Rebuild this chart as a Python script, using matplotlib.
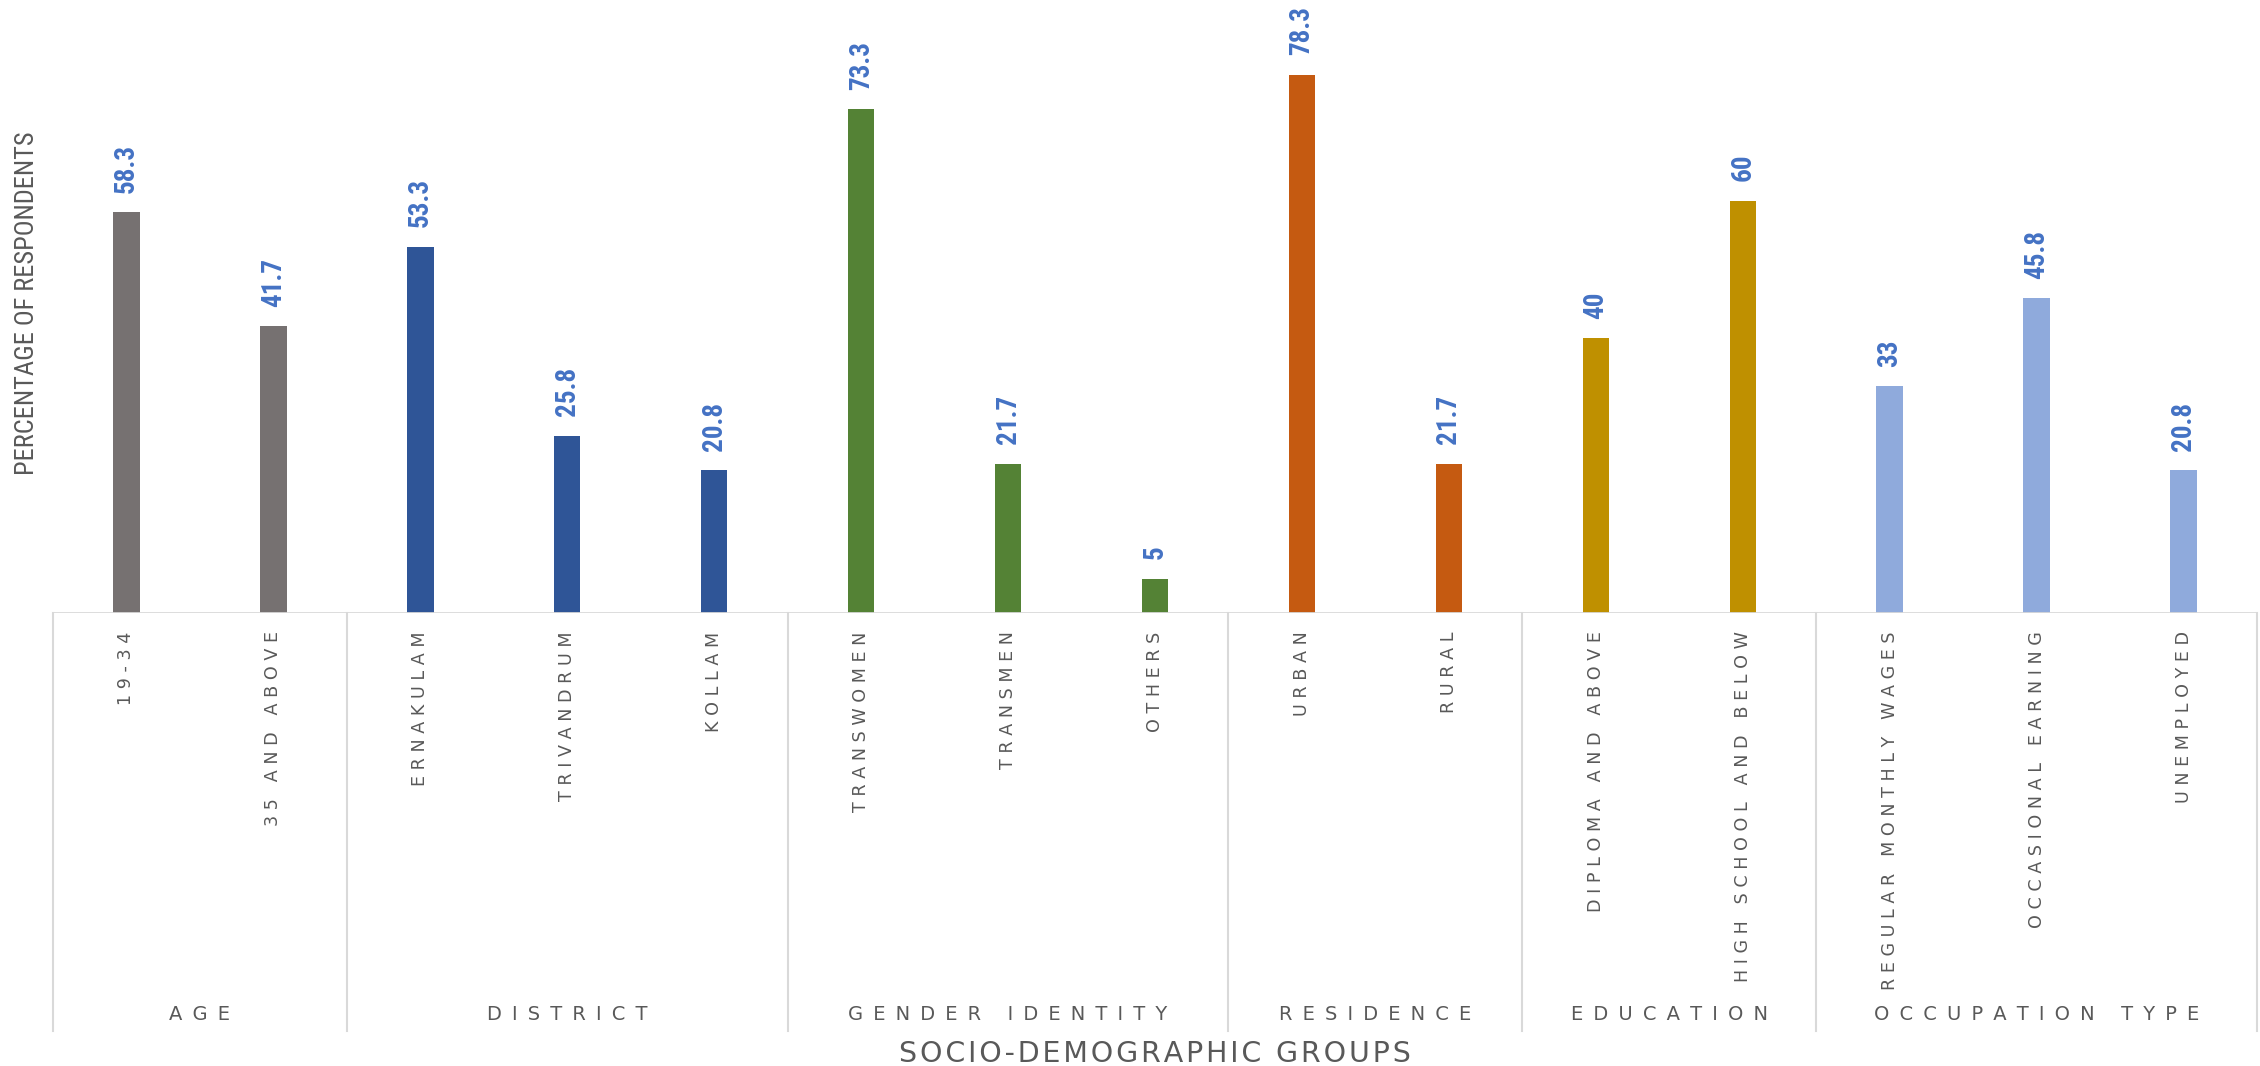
import numpy as np
import matplotlib
matplotlib.use("Agg")
import matplotlib.pyplot as plt

# data
groups = ["AGE", "DISTRICT", "GENDER IDENTITY", "RESIDENCE", "EDUCATION", "OCCUPATION TYPE"]
age_labels = ["19-34", "35 AND ABOVE"]
age_vals = [58.3, 41.7]
district_labels = ["ERNAKULAM", "TRIVANDRUM", "KOLLAM"]
district_vals = [53.3, 25.8, 20.8]
gender_labels = ["TRANSWOMEN", "TRANSMEN", "OTHERS"]
gender_vals = [73.3, 21.7, 5]
residence_labels = ["URBAN", "RURAL"]
residence_vals = [78.3, 21.7]
education_labels = ["DIPLOMA AND ABOVE", "HIGH SCHOOL AND BELOW"]
education_vals = [40, 60]
occupation_labels = ["REGULAR MONTHLY WAGES", "OCCASIONAL EARNING", "UNEMPLOYED"]
occupation_vals = [33, 45.8, 20.8]

group_colors = ["#767171", "#2F5597", "#548235", "#C55A11", "#BF9000", "#8FAADC"]

all_labels = [age_labels, district_labels, gender_labels, residence_labels,
              education_labels, occupation_labels]
all_vals = [age_vals, district_vals, gender_vals, residence_vals,
            education_vals, occupation_vals]

grey = "#595959"
line_grey = "#D9D9D9"
narrow = ["Roboto Condensed", "Liberation Sans Narrow", "DejaVu Sans"]


def spaced(s):
    # fake letter spacing (excel style)
    return " ".join(s)


fig = plt.figure(figsize=(22.6, 10.66), dpi=100)
ax = fig.add_axes([53 / 2260, 1 - 613 / 1066, (2257 - 53) / 2260, 613 / 1066])

pos = 0
bounds = [-0.5]
for g, labels, vals, col in zip(groups, all_labels, all_vals, group_colors):
    x = np.arange(pos, pos + len(vals))
    ax.bar(x, vals, width=0.18, color=col, zorder=2)
    for xi, v, lab in zip(x, vals, labels):
        ax.annotate(f"{v:g}", (xi, v), xytext=(0, 14), textcoords="offset points",
                    rotation=90, ha="center", va="bottom", fontsize=19.5,
                    fontweight="bold", fontstretch="condensed", color="#4472C4",
                    family=narrow)
        ax.text(xi, -0.03, spaced(lab), transform=ax.get_xaxis_transform(),
                rotation=90, ha="center", va="top", fontsize=12.6, color=grey,
                clip_on=False)
    pos += len(vals)
    bounds.append(pos - 0.5)
    ax.text((x[0] + x[-1]) / 2, -0.655, " \u2009".join(g),
            transform=ax.get_xaxis_transform(), ha="center", va="center",
            fontsize=14, color=grey, clip_on=False)

ax.set_xlim(-0.5, pos - 0.5)
ax.set_ylim(0, 89.2)

# category axis dividers
trans = ax.get_xaxis_transform()
for b in bounds:
    ax.plot([b, b], [0, -(1031 - 613) / 613], transform=trans, color=line_grey,
            lw=1.5, clip_on=False)
ax.axhline(0, color=line_grey, lw=2, zorder=3)

for s in ax.spines.values():
    s.set_visible(False)
ax.set_xticks([])
ax.set_yticks([])

fig.text(27 / 2260, 1 - 303 / 1066, "PERCENTAGE OF RESPONDENTS", rotation=90,
         ha="center", va="center", fontsize=19, fontstretch="condensed",
         color=grey, family=narrow)
fig.text(1155 / 2260, 1 - 1054 / 1066, "\u200a".join("SOCIO-DEMOGRAPHIC GROUPS"),
         ha="center", va="center", fontsize=20.5, color=grey)

fig.savefig("out.png", dpi=100)
